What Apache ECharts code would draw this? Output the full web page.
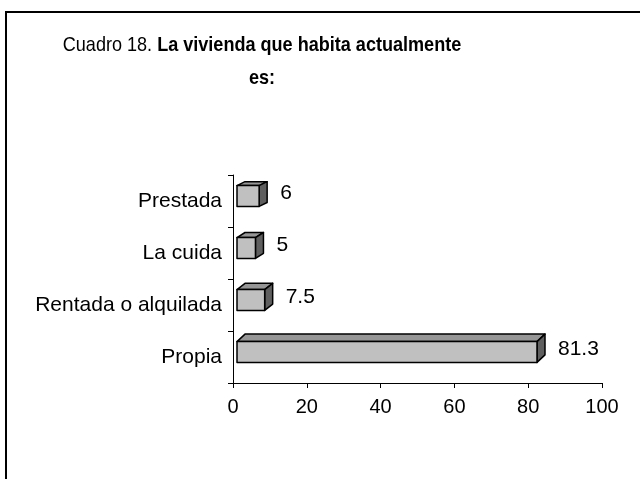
<!DOCTYPE html>
<html>
<head>
<meta charset="utf-8">
<script src="https://cdn.jsdelivr.net/npm/echarts@6/dist/echarts.min.js"></script>
<style>html,body{margin:0;padding:0;background:#fff;}#c{width:640px;height:479px;}</style>
</head>
<body>
<div id="c"></div>
<script>
var categories = ['Propia', 'Rentada o alquilada', 'La cuida', 'Prestada'];
var values = [81.3, 7.5, 5, 6];
var valueLabels = ['81.3', '7.5', '5', '6'];
var xTicks = [0, 20, 40, 60, 80, 100];

var chart = echarts.init(document.getElementById('c'), null, {renderer: 'canvas'});
var FONT = '"Liberation Sans", Arial, sans-serif';

function renderBar(params, api) {
  var idx = api.value(1);
  var val = api.value(0);
  var start = api.coord([0, idx]);
  var end = api.coord([val, idx]);
  var band = api.size([0, 1])[1];
  var h = band * 0.4;
  var off = 4;
  var x0 = start[0] + off, x1 = end[0] + off;
  var yc = start[1] - 5;
  var y0 = yc - h / 2, y1 = yc + h / 2;
  var dx = 8;
  var dy = 7.5 - 1.2 * idx;
  var stroke = {stroke: '#000', lineWidth: 1.5, lineJoin: 'round'};
  return {
    type: 'group',
    children: [
      {type: 'polygon', shape: {points: [[x0, y0], [x0 + dx, y0 - dy], [x1 + dx, y0 - dy], [x1, y0]]},
        style: Object.assign({fill: '#969696'}, stroke)},
      {type: 'polygon', shape: {points: [[x1, y0], [x1 + dx, y0 - dy], [x1 + dx, y1 - dy], [x1, y1]]},
        style: Object.assign({fill: '#5f5f5f'}, stroke)},
      {type: 'rect', shape: {x: x0, y: y0, width: x1 - x0, height: h},
        style: Object.assign({fill: '#c0c0c0'}, stroke)},
      {type: 'text', x: x1 + dx + 13, y: yc - 3,
        style: {text: valueLabels[params.dataIndex], fill: '#000', font: '21px ' + FONT,
          textAlign: 'left', textVerticalAlign: 'middle'}}
    ]
  };
}

chart.setOption({
  animation: false,
  backgroundColor: '#fff',
  graphic: [
    {type: 'rect', shape: {x: 6, y: 12, width: 700, height: 600},
      style: {fill: 'none', stroke: '#000', lineWidth: 2}, silent: true},
    {type: 'text', x: 262, y: 29, scaleX: 0.86, scaleY: 1,
      style: {
        text: '{n|Cuadro 18. }{b|La vivienda que habita actualmente}\n{b|es:}',
        textAlign: 'center',
        rich: {
          n: {fontFamily: FONT, fontSize: 21, fontWeight: 'normal', fill: '#000', lineHeight: 33},
          b: {fontFamily: FONT, fontSize: 21, fontWeight: 'bold', fill: '#000', lineHeight: 33}
        }
      }}
  ],
  grid: {left: 233, right: 38, top: 175, bottom: 96, containLabel: false},
  xAxis: {
    type: 'value', min: 0, max: 100, interval: 20,
    axisLine: {show: true, lineStyle: {color: '#000', width: 1}},
    axisTick: {show: true, length: 5, lineStyle: {color: '#000'}},
    splitLine: {show: false},
    axisLabel: {color: '#000', fontSize: 20, fontFamily: FONT, margin: 14,
      formatter: function (v) { return xTicks.indexOf(v) >= 0 ? String(v) : ''; }}
  },
  yAxis: {
    type: 'category', data: categories,
    axisLine: {show: true, lineStyle: {color: '#000', width: 1}},
    axisTick: {show: true, length: 5, lineStyle: {color: '#000'}},
    axisLabel: {color: '#000', fontSize: 21, fontFamily: FONT, margin: 11}
  },
  series: [{
    type: 'custom',
    renderItem: renderBar,
    encode: {x: 0, y: 1},
    data: values.map(function (v, i) { return [v, i]; }),
    clip: false
  }]
});
</script>
</body>
</html>
